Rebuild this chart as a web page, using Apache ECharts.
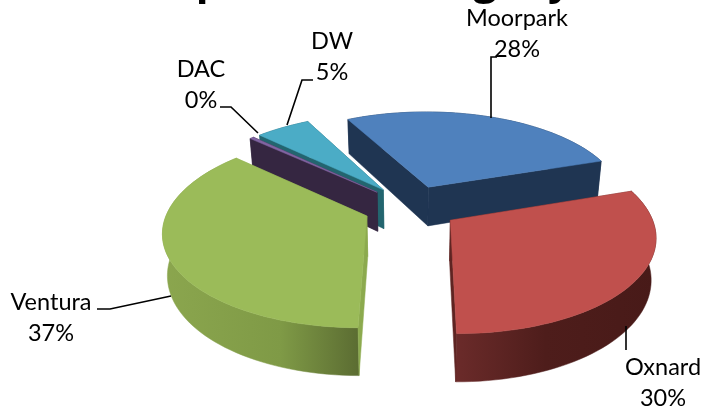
<!DOCTYPE html>
<html><head><meta charset="utf-8">
<style>html,body{margin:0;padding:0;background:#fff}#c{width:701px;height:410px}</style>
<script src="https://cdn.jsdelivr.net/npm/echarts@6/dist/echarts.min.js"></script>
</head><body><div id="c"></div>
<script>
const categories = ['Moorpark', 'Oxnard', 'Ventura', 'DAC', 'DW'];
const shares = [27.5, 30.2, 36.7, 0.4, 5.2];
const drawOrder = [0, 4, 3, 2, 1];
const topColors = ['#4f81bd', '#c0504d', '#9bbb59', '#8064a2', '#4bacc6'];
const wallStops = [
  [[0, '#1f3552'], [1, '#1f3552']],
  [[0, '#6b2b2a'], [0.45, '#4e1d1b'], [1, '#481a18']],
  [[0, '#8ba64e'], [0.6, '#7f9a46'], [1, '#5b6c32']],
  [[0, '#352641'], [1, '#352641']],
  [[0, '#1f5f6e'], [1, '#1f5f6e']]
];
const cutColors = ['#1f3552', '#5e2422', '#8caa4e', '#352641', '#23656f'];
const labelCenters = [[517, 34], [663, 383], [51, 318], [201, 85], [332, 57]];
const leaders = [
  [[497, 57], [491, 57], [491, 118]],
  [[626, 326], [626, 350]],
  [[97, 309], [110, 309], [171, 296]],
  [[220, 107], [231, 107], [258, 133]],
  [[313, 80], [302, 80], [287, 125]]
];
const clippedTitleGlyphs = [['p', 209], ['g', 485], ['y', 560]];

const startAngle = -27.5, cx = 411, cy = 207, rx = 198, ry = 92, persp = 0.15, explode = 0.24, depth = 40, bottomScale = 0.98;
const rad = d => d * Math.PI / 180;
const total = shares.reduce((a, b) => a + b, 0);
const spans = [];
shares.reduce((acc, v) => { const e = acc + v / total * 360; spans.push([acc, e]); return e; }, startAngle);

function projector(i) {
  const m = rad((spans[i][0] + spans[i][1]) / 2);
  const ou = explode * Math.sin(m), ov = -explode * Math.cos(m);
  return (deg, r, low) => {
    const U = ou + Math.sin(rad(deg)) * r, V = ov - Math.cos(rad(deg)) * r, s = 1 / (1 - persp * V);
    return [cx + rx * U * s * (low ? bottomScale : 1), cy + ry * V * s + (low ? depth * s : 0)];
  };
}
function arc(P, a, b, low) {
  const n = Math.max(2, Math.ceil(Math.abs(b - a) / 2)), pts = [];
  for (let k = 0; k <= n; k++) pts.push(P(a + (b - a) * k / n, 1, low));
  return pts;
}
const poly = (points, fill) => ({ type: 'polygon', shape: { points }, style: { fill, stroke: fill, lineWidth: 0.5 } });

function renderSlice(params) {
  const i = drawOrder[params.dataIndex];
  const [a, b] = spans[i], P = projector(i);
  const topArc = arc(P, a, b, false), lowArc = arc(P, a, b, true);
  const wall = new echarts.graphic.LinearGradient(0, 0, 1, 0, wallStops[i].map(s => ({ offset: s[0], color: s[1] })));
  const apexT = P(0, 0, false), apexL = P(0, 0, true);
  return {
    type: 'group',
    children: [
      poly(topArc.concat(lowArc.slice().reverse()), wall),
      poly([apexT, P(a, 1, false), P(a, 1, true), apexL], cutColors[i]),
      poly([apexT, P(b, 1, false), P(b, 1, true), apexL], cutColors[i]),
      poly([apexT].concat(topArc), topColors[i])
    ]
  };
}
const font = '23.5px Lato, Carlito, sans-serif';
function renderLabel(params) {
  const i = params.dataIndex;
  return {
    type: 'group',
    children: [
      { type: 'text', style: { x: labelCenters[i][0], y: labelCenters[i][1], text: categories[i] + '\n' + Math.round(shares[i]) + '%', fill: '#000', font, lineHeight: 31.5, align: 'center', verticalAlign: 'middle' } },
      { type: 'polyline', shape: { points: leaders[i] }, style: { stroke: '#000', lineWidth: 1.6, fill: null } }
    ]
  };
}
function renderGlyph(params) {
  const g = clippedTitleGlyphs[params.dataIndex];
  return { type: 'text', style: { x: g[1], y: -18, text: g[0], fill: '#000', font: 'bold 42px "Open Sans", sans-serif', align: 'center', verticalAlign: 'middle' } };
}
const chart = echarts.init(document.getElementById('c'), null, { renderer: 'canvas' });
chart.setOption({
  animation: false,
  backgroundColor: '#fff',
  series: [
    { type: 'custom', coordinateSystem: 'none', renderItem: renderSlice, data: drawOrder.map(i => shares[i]), silent: true },
    { type: 'custom', coordinateSystem: 'none', renderItem: renderLabel, data: categories, silent: true, z: 5 },
    { type: 'custom', coordinateSystem: 'none', renderItem: renderGlyph, data: clippedTitleGlyphs.map(g => g[0]), silent: true, z: 6 }
  ]
});
</script></body></html>
